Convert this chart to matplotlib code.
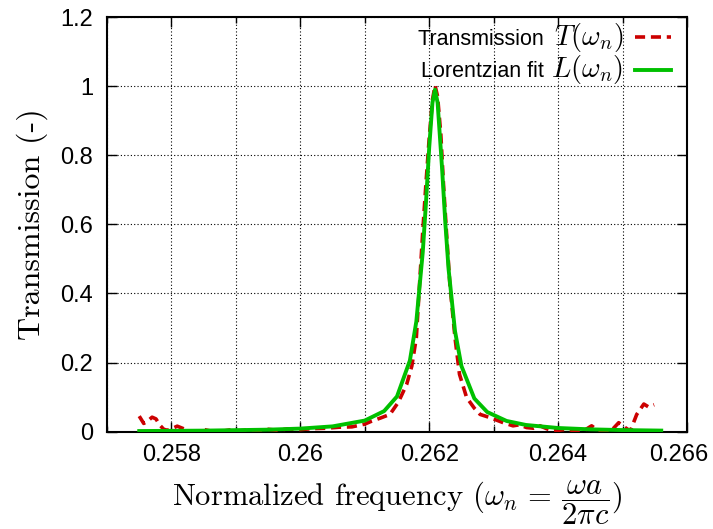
import matplotlib
matplotlib.use("Agg")
import matplotlib.pyplot as plt
from matplotlib.ticker import MultipleLocator
from matplotlib.lines import Line2D
import matplotlib.transforms as mtransforms

plt.rcParams['mathtext.fontset'] = 'cm'
plt.rcParams['font.family'] = ['Liberation Sans', 'DejaVu Sans']

# Measured transmission T(omega_n)
trans_x = [0.25750, 0.25757, 0.25762, 0.25770, 0.25776, 0.25782, 0.25788, 0.25794,
           0.25802, 0.25809, 0.25817, 0.25828, 0.25838, 0.25851, 0.25861, 0.25875,
           0.25890, 0.25905, 0.25920, 0.25935, 0.25950, 0.25965, 0.25980, 0.26000,
           0.26020, 0.26040, 0.26060, 0.26080, 0.26100, 0.26110, 0.26125, 0.26139,
           0.26152, 0.26165, 0.26173, 0.26180, 0.26185, 0.26190, 0.26195, 0.26200,
           0.26205, 0.26209, 0.26213, 0.26218, 0.26222, 0.26227, 0.26232, 0.26240,
           0.26247, 0.26258, 0.26270, 0.26279, 0.26294, 0.26315, 0.26330, 0.26340,
           0.26351, 0.26362, 0.26372, 0.26383, 0.26393, 0.26405, 0.26413, 0.26425,
           0.26439, 0.26452, 0.26460, 0.26470, 0.26481, 0.26494, 0.26504, 0.26512,
           0.26522, 0.26533, 0.26540, 0.26549]
trans_y = [0.045, 0.024, 0.029, 0.042, 0.037, 0.019, 0.007, 0.004,
           0.010, 0.016, 0.010, 0.002, 0.000, 0.006, 0.002, 0.000,
           0.005, 0.002, 0.006, 0.004, 0.007, 0.004, 0.008, 0.006,
           0.009, 0.010, 0.013, 0.014, 0.022, 0.030, 0.040, 0.050,
           0.085, 0.137, 0.190, 0.272, 0.427, 0.580, 0.720, 0.850,
           0.960, 1.002, 0.970, 0.860, 0.720, 0.570, 0.427, 0.272,
           0.166, 0.099, 0.068, 0.050, 0.041, 0.026, 0.017, 0.020,
           0.012, 0.010, 0.017, 0.008, 0.002, 0.005, 0.007, 0.003,
           0.002, 0.017, 0.006, 0.002, 0.000, 0.026, 0.012, 0.002,
           0.050, 0.080, 0.072, 0.078]

# Lorentzian fit L(omega_n)
fit_x = [0.2575, 0.2585, 0.2595, 0.2600, 0.2605, 0.2610, 0.2613, 0.2615, 0.2617,
         0.2618, 0.2619, 0.26195, 0.2620, 0.26205, 0.26209, 0.26213, 0.2622,
         0.26225, 0.2623, 0.2624, 0.2625, 0.2627, 0.2629, 0.2632, 0.2635,
         0.2640, 0.2645, 0.2650, 0.2656]
fit_y = [0.0019, 0.0031, 0.0059, 0.0090, 0.0154, 0.0322, 0.0596, 0.102, 0.206,
         0.319, 0.520, 0.664, 0.823, 0.952, 0.990, 0.952, 0.760,
         0.604, 0.471, 0.291, 0.190, 0.0961, 0.0569, 0.0311, 0.0195,
         0.0107, 0.0068, 0.0047, 0.0032]

series_names = ['Transmission', 'Lorentzian fit']
series_math = [r'$T(\omega_n)$', r'$L(\omega_n)$']
series_colors = ['#cc0000', '#00c000']

x_ticks = [0.258, 0.260, 0.262, 0.264, 0.266]
x_ticklabels = ['0.258', '0.26', '0.262', '0.264', '0.266']
y_ticks = [0, 0.2, 0.4, 0.6, 0.8, 1.0, 1.2]
y_ticklabels = ['0', '0.2', '0.4', '0.6', '0.8', '1', '1.2']

fig = plt.figure(figsize=(7.13, 5.29), dpi=100)
W, H = 713.0, 529.0
ax = fig.add_axes([107 / W, 1 - 431.7 / H, 580 / W, 414.7 / H])

ax.plot(trans_x, trans_y, color=series_colors[0], lw=2.6, dashes=(2.8, 1.6),
        zorder=3)
ax.plot(fit_x, fit_y, color=series_colors[1], lw=2.8, zorder=4)

ax.set_xlim(0.257, 0.266)
ax.set_ylim(0, 1.2)
ax.set_xticks(x_ticks)
ax.set_xticklabels(x_ticklabels)
ax.xaxis.set_minor_locator(MultipleLocator(0.001))
ax.set_yticks(y_ticks)
ax.set_yticklabels(y_ticklabels)

ax.grid(True, which='both', axis='x', color='black', linestyle=(0, (1, 2)), lw=0.8)
ax.grid(True, which='major', axis='y', color='black', linestyle=(0, (1, 2)), lw=0.8)

ax.tick_params(which='both', direction='in', top=True, right=True,
               labelsize=17, width=1.0)
ax.tick_params(axis='x', which='major', pad=9)
ax.tick_params(axis='y', which='major', pad=10)
ax.tick_params(which='major', length=7)
ax.tick_params(which='minor', length=4)
for s in ax.spines.values():
    s.set_linewidth(1.5)

# shift the last x tick label slightly left so it stays inside the figure
last = ax.get_xticklabels()[-1]
last.set_transform(last.get_transform() +
                   mtransforms.ScaledTranslation(-8 / 100, 0, fig.dpi_scale_trans))

ax.set_xlabel(r'Normalized frequency $(\omega_n \,=\, \dfrac{\omega a}{2\pi c})$',
              family='cmr10', fontsize=22, labelpad=9)
ax.set_ylabel('Transmission (-)', family='cmr10', fontsize=23, labelpad=9)

# legend (gnuplot style: text right-aligned, sample on the right)
ax_w, ax_h = 580.0, 414.7
def fx(px):
    return (px - 107) / ax_w
def fy(py):
    return (431.7 - py) / ax_h

rows_base = [45, 77.3]
rows_line = [36.7, 70]
for i in range(2):
    ax.text(fx(544), fy(rows_base[i]), series_names[i], transform=ax.transAxes,
            ha='right', va='baseline', fontsize=15.5)
    ax.text(fx(623), fy(rows_base[i]), series_math[i], transform=ax.transAxes,
            ha='right', va='baseline', fontsize=20.5)
    kw = dict(dashes=(2.8, 1.6)) if i == 0 else {}
    ax.add_line(Line2D([fx(635), fx(671)], [fy(rows_line[i])] * 2,
                       transform=ax.transAxes, color=series_colors[i],
                       lw=2.6 if i == 0 else 2.8, **kw))

fig.savefig('out.png', dpi=100)
